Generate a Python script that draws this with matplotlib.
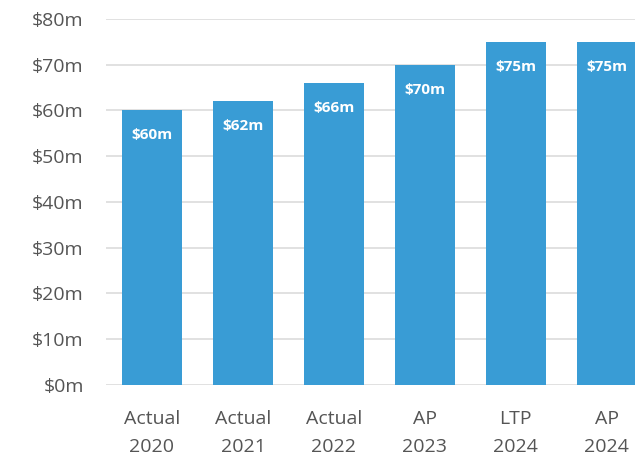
import matplotlib.pyplot as plt

categories = ['Actual\n2020', 'Actual\n2021', 'Actual\n2022', 'AP\n2023', 'LTP\n2024', 'AP\n2024']
values = [60, 62, 66, 70, 75, 75]
value_labels = ['$60m', '$62m', '$66m', '$70m', '$75m', '$75m']
yticks = [0, 10, 20, 30, 40, 50, 60, 70, 80]

bar_color = '#399cd5'
text_color = '#555555'

plt.rcParams['font.family'] = ['Open Sans', 'DejaVu Sans']

fig = plt.figure(figsize=(6.35, 4.62), dpi=100)
ax = fig.add_axes([0.167, 0.1667, 0.833, 0.7922])

x = list(range(len(categories)))
bars = ax.bar(x, values, width=0.66, color=bar_color, zorder=2)

for rect, lab in zip(bars, value_labels):
    ax.annotate(lab, (rect.get_x() + rect.get_width() / 2, rect.get_height()),
                xytext=(0, -18), textcoords='offset points',
                ha='center', va='center', color='white',
                fontsize=11, fontweight='bold')

ax.set_ylim(0, 80)
ax.set_xlim(-0.505, 5.31)
ax.set_yticks(yticks)
ax.set_yticklabels([f'${v}m' for v in yticks])
ax.set_xticks(x)
ax.set_xticklabels(categories, linespacing=1.75)

ax.grid(axis='y', color='#dcdcdc', linewidth=1.2, zorder=0)
ax.set_axisbelow(True)
for s in ax.spines.values():
    s.set_visible(False)
ax.tick_params(axis='y', length=0, pad=16, labelsize=14, labelcolor=text_color)
ax.tick_params(axis='x', length=0, pad=18, labelsize=14, labelcolor=text_color)

fig.savefig('out.png', dpi=100)
